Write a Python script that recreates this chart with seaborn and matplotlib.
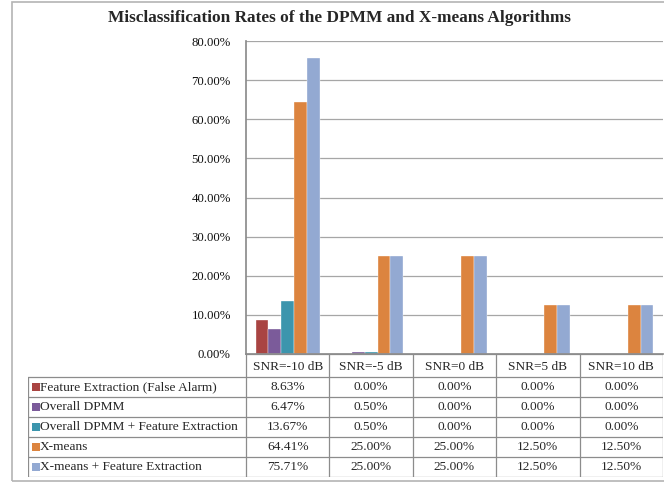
import pandas as pd
import matplotlib
matplotlib.use("Agg")
import matplotlib.pyplot as plt
from matplotlib.patches import Rectangle
from matplotlib.ticker import FuncFormatter
import seaborn as sns

# Chart data (misclassification rate, %)
snr_levels = ["SNR=-10 dB", "SNR=-5 dB", "SNR=0 dB", "SNR=5 dB", "SNR=10 dB"]
series_names = [
    "Feature Extraction (False Alarm)",
    "Overall DPMM",
    "Overall DPMM + Feature Extraction",
    "X-means",
    "X-means + Feature Extraction",
]
feat_extraction = [8.63, 0.00, 0.00, 0.00, 0.00]
overall_dpmm = [6.47, 0.50, 0.00, 0.00, 0.00]
dpmm_plus_fe = [13.67, 0.50, 0.00, 0.00, 0.00]
xmeans = [64.41, 25.00, 25.00, 12.50, 12.50]
xmeans_plus_fe = [75.71, 25.00, 25.00, 12.50, 12.50]
yticks = [0, 10, 20, 30, 40, 50, 60, 70, 80]

colours = ["#A94442", "#7B5B9A", "#3C95AD", "#DC843F", "#93A9D2"]
all_series = [feat_extraction, overall_dpmm, dpmm_plus_fe, xmeans, xmeans_plus_fe]

# Long form table for seaborn
rows = []
for name, vals in zip(series_names, all_series):
    for snr, v in zip(snr_levels, vals):
        rows.append({"snr": snr, "series": name, "rate": v})
df = pd.DataFrame(rows)

sns.set_theme(style="white")
plt.rcParams["font.family"] = ["Liberation Serif", "DejaVu Serif"]

W, H = 664, 482
fig = plt.figure(figsize=(W / 100, H / 100), dpi=100)

# outer chart frame
fig.patches.append(Rectangle((12 / W, 1 - 481 / H), 700 / W, 479 / H,
                             transform=fig.transFigure, fill=False,
                             edgecolor="#B4B4B4", linewidth=1.2))

# pixel layout
px_left, px_right = 246, 663
px_top, px_zero = 41, 354
tbl_left, tbl_bottom = 28, 477
cat_w = (px_right - px_left) / len(snr_levels)
fs = 9.6

ax = fig.add_axes([px_left / W, 1 - px_zero / H,
                   (px_right - px_left) / W, (px_zero - px_top) / H])
sns.barplot(data=df, x="snr", y="rate", hue="series", hue_order=series_names,
            order=snr_levels, palette=colours, saturation=1, width=0.77,
            edgecolor="white", linewidth=0.25, legend=False, ax=ax)
ax.set_xlim(-0.5, len(snr_levels) - 0.5)
ax.set_ylim(0, 80)
ax.set_yticks(yticks)
ax.yaxis.set_major_formatter(FuncFormatter(lambda v, p: f"{v:.2f}%"))
ax.tick_params(axis="y", length=0, pad=11, labelsize=9.2, colors="#111111")
ax.set_xticks([])
ax.set_xlabel("")
ax.set_ylabel("")
ax.yaxis.grid(True, color="#A6A6A6", linewidth=0.9)
ax.set_axisbelow(True)
for s in ["top", "right"]:
    ax.spines[s].set_visible(False)
ax.spines["left"].set_color("#8C8C8C")
ax.spines["bottom"].set_color("#8C8C8C")

# data table beneath the axis
left_units = -0.5 - (px_left - tbl_left) / cat_w
tax = fig.add_axes([tbl_left / W, 1 - tbl_bottom / H,
                    (px_right - tbl_left) / W, (tbl_bottom - px_zero) / H])
tax.set_xlim(left_units, len(snr_levels) - 0.5)
tbl_h = tbl_bottom - px_zero
tax.set_ylim(tbl_h, 0)
tax.axis("off")

line_kw = dict(color="#8C8C8C", linewidth=0.9)
head_h, row_h = 23, 20
row_edges = [head_h + i * row_h for i in range(len(series_names) + 1)]
# header row
tax.plot([-0.5, len(snr_levels) - 0.5], [0, 0], **line_kw)
for i in range(len(snr_levels) + 1):
    tax.plot([i - 0.5, i - 0.5], [0, tbl_h], **line_kw)
for i, lab in enumerate(snr_levels):
    tax.text(i, head_h / 2 + 1, lab, ha="center", va="center", fontsize=fs)
# body rows
for y in row_edges:
    tax.plot([left_units, len(snr_levels) - 0.5], [y, y], **line_kw)
tax.plot([left_units, left_units], [head_h, tbl_h], **line_kw)
for r, (name, vals, col) in enumerate(zip(series_names, all_series, colours)):
    yc = head_h + r * row_h + row_h / 2
    tax.scatter([left_units + 0.09], [yc], marker="s", s=26, color=col,
                linewidths=0)
    tax.text(left_units + 0.145, yc, name, ha="left", va="center", fontsize=fs)
    for i, v in enumerate(vals):
        tax.text(i, yc, f"{v:.2f}%", ha="center", va="center", fontsize=fs)

fig.text(339 / W, 1 - 18 / H,
         "Misclassification Rates of the DPMM and X-means Algorithms",
         ha="center", va="center", fontsize=12.4, fontweight="bold")

plt.savefig("out.png", dpi=100)
